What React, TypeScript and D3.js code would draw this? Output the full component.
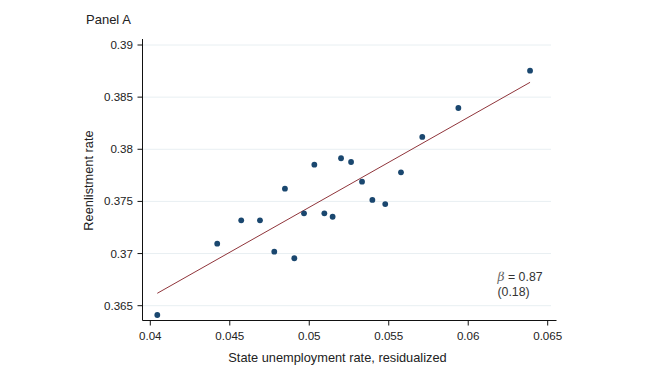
import * as d3 from "d3";

const W = 650;
const H = 366;

// binned scatter points
const UNEMP = [
  0.04044, 0.04421, 0.04572, 0.0469, 0.0478, 0.04847, 0.04906, 0.04967,
  0.05032, 0.05095, 0.05147, 0.052, 0.05263, 0.05332, 0.05397, 0.05478,
  0.05577, 0.05711, 0.05938, 0.06389,
];
const REENLIST = [
  0.36411, 0.37095, 0.37319, 0.37319, 0.37018, 0.37622, 0.36955, 0.37386,
  0.37852, 0.37386, 0.37353, 0.37914, 0.37878, 0.37689, 0.37514, 0.37475,
  0.37779, 0.38118, 0.38396, 0.38754,
];

// fitted line end points
const FIT_X = [0.04044, 0.06389];
const FIT_Y = [0.36619, 0.38642];

const X_TICKS = [0.04, 0.045, 0.05, 0.055, 0.06, 0.065];
const Y_TICKS = [0.365, 0.37, 0.375, 0.38, 0.385, 0.39];

const FONT = "'Liberation Sans', Arial, Helvetica, sans-serif";
const AXIS_LEFT = 142.5;
const AXIS_BOTTOM = 320.5;

export default function App() {
  const x = d3.scaleLinear().domain([0.04, 0.065]).range([150.3, 547.7]);
  const y = d3.scaleLinear().domain([0.365, 0.39]).range([305.7, 45]);

  const line = d3
    .line<number>()
    .x((d) => x(d))
    .y((_, i) => y(FIT_Y[i]));

  return (
    <svg
      width={W}
      height={H}
      style={{ position: "absolute", left: 0, top: 0, background: "#fff" }}
      fontFamily={FONT}
    >
      <defs>
        <clipPath id="betaClip">
          <rect x={480} y={271.8} width={100} height={40} />
        </clipPath>
      </defs>

      <text x={86} y={24} fontSize={13} fill="#222">
        Panel A
      </text>

      {/* grid */}
      {Y_TICKS.map((t) => (
        <line
          key={"g" + t}
          x1={AXIS_LEFT}
          x2={551}
          y1={y(t)}
          y2={y(t)}
          stroke="#e8eff2"
          strokeWidth={1}
        />
      ))}

      {/* y axis */}
      <line x1={AXIS_LEFT} x2={AXIS_LEFT} y1={39} y2={AXIS_BOTTOM} stroke="#111" strokeWidth={1} />
      {Y_TICKS.map((t) => (
        <g key={"y" + t}>
          <line x1={AXIS_LEFT - 5} x2={AXIS_LEFT} y1={y(t)} y2={y(t)} stroke="#111" />
          <text
            x={AXIS_LEFT - 9.5}
            y={y(t)}
            dy="0.35em"
            textAnchor="end"
            fontSize={11.6}
            fill="#222"
          >
            {d3.format("")(t)}
          </text>
        </g>
      ))}

      {/* x axis */}
      <line x1={AXIS_LEFT} x2={556.5} y1={AXIS_BOTTOM} y2={AXIS_BOTTOM} stroke="#111" strokeWidth={1} />
      {X_TICKS.map((t) => (
        <g key={"x" + t}>
          <line x1={x(t)} x2={x(t)} y1={AXIS_BOTTOM} y2={AXIS_BOTTOM + 5} stroke="#111" />
          <text x={x(t)} y={339.8} textAnchor="middle" fontSize={11.6} fill="#222">
            {d3.format("")(t)}
          </text>
        </g>
      ))}

      <text x={337.5} y={361.5} textAnchor="middle" fontSize={12.8} fill="#222">
        State unemployment rate, residualized
      </text>
      <text
        transform={`translate(92.5,180.5) rotate(-90)`}
        textAnchor="middle"
        fontSize={12.8}
        fill="#222"
      >
        Reenlistment rate
      </text>

      {/* fit line */}
      <path d={line(FIT_X) ?? ""} fill="none" stroke="#90353b" strokeWidth={1} />

      {/* points */}
      {UNEMP.map((u, i) => (
        <circle key={i} cx={x(u)} cy={y(REENLIST[i])} r={2.9} fill="#1a476f" />
      ))}

      {/* annotation */}
      <g clipPath="url(#betaClip)">
        <text x={497.5} y={281} fontSize={12.3} fill="#333">
          <tspan fontFamily="'DejaVu Serif', serif" fontStyle="italic" fill="#666">
            β
          </tspan>
          <tspan> = 0.87</tspan>
        </text>
      </g>
      <text x={497.5} y={295.5} fontSize={12.3} fill="#333">
        (0.18)
      </text>
    </svg>
  );
}
